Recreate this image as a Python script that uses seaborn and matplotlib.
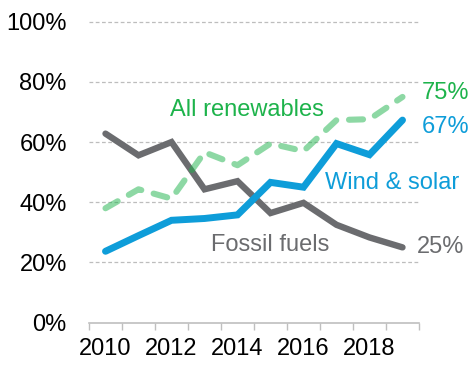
import matplotlib
matplotlib.use("Agg")
import matplotlib.pyplot as plt
import seaborn as sns
import pandas as pd
from matplotlib.ticker import FixedLocator, FuncFormatter

years = [2010, 2011, 2012, 2013, 2014, 2015, 2016, 2017, 2018, 2019]
fossil = [62.8, 55.6, 60.0, 44.3, 47.0, 36.4, 39.8, 32.5, 28.3, 25.0]
wind_solar = [23.7, 28.9, 34.0, 34.6, 35.8, 46.6, 45.0, 59.5, 55.8, 67.3]
renewables = [38.0, 44.3, 41.2, 56.6, 52.3, 59.5, 57.0, 67.3, 67.6, 75.0]
tick_years = [2010, 2012, 2014, 2016, 2018]
y_ticks = [0, 20, 40, 60, 80, 100]

GRAY = "#6B6C6F"
BLUE = "#0E9DD9"
GREEN = "#1DB34B"

sns.set_theme(style="white")
plt.rcParams["font.family"] = ["Liberation Sans", "DejaVu Sans"]

df = pd.DataFrame({"year": years, "fossil": fossil,
                   "wind": wind_solar, "ren": renewables})

fig = plt.figure(figsize=(4.69, 3.65), dpi=100)
ax = fig.add_axes([89 / 469, 1 - 322.6 / 365, (419 - 89) / 469, (322.6 - 21.7) / 365])

sns.lineplot(data=df, x="year", y="fossil", ax=ax, color=GRAY, linewidth=4.6,
             solid_capstyle="round", solid_joinstyle="miter", zorder=3)
sns.lineplot(data=df, x="year", y="wind", ax=ax, color=BLUE, linewidth=5.0,
             solid_capstyle="round", solid_joinstyle="miter", zorder=4)
sns.lineplot(data=df, x="year", y="ren", ax=ax, color=GREEN, alpha=0.5, linewidth=4.4,
             linestyle=(0, (2.3, 2.1)), dash_capstyle="round", zorder=5)

ax.set_xlim(2009.5, 2019.5)
ax.set_ylim(0, 100)
ax.set_xlabel("")
ax.set_ylabel("")

fs = 17

ax.yaxis.set_major_locator(FixedLocator(y_ticks))
ax.yaxis.set_major_formatter(FuncFormatter(lambda v, p: f"{int(v)}%"))
ax.tick_params(axis="y", length=0, pad=16, labelsize=fs, labelcolor="black")
for lab in ax.get_yticklabels():
    lab.set_horizontalalignment("right")

ax.xaxis.set_major_locator(FixedLocator(tick_years))
ax.xaxis.set_minor_locator(FixedLocator([y - 0.5 for y in years] + [years[-1] + 0.5]))
ax.tick_params(axis="x", which="major", length=0, pad=11, labelsize=fs, labelcolor="black")
ax.tick_params(axis="x", which="minor", length=5, width=1, color="#BFBFBF", direction="out", bottom=True)

for v in y_ticks[1:]:
    ax.axhline(v, color="#BDBDBD", linewidth=0.9, linestyle=(0, (3, 2)), zorder=1, clip_on=False)

for s in ["left", "right", "top"]:
    ax.spines[s].set_visible(False)
ax.spines["bottom"].set_color("#BFBFBF")
ax.spines["bottom"].set_linewidth(1.2)

ax.text(2011.95, 70.6, "All renewables", color=GREEN, fontsize=fs, ha="left", va="center")
ax.text(2016.65, 46.3, "Wind & solar", color=BLUE, fontsize=fs, ha="left", va="center")
ax.text(2013.2, 25.8, "Fossil fuels", color=GRAY, fontsize=fs, ha="left", va="center")
ax.text(2019.57, 76.3, "75%", color=GREEN, fontsize=fs, ha="left", va="center", clip_on=False)
ax.text(2019.57, 65.1, "67%", color=BLUE, fontsize=fs, ha="left", va="center", clip_on=False)
ax.text(2019.45, 25.2, "25%", color=GRAY, fontsize=fs, ha="left", va="center", clip_on=False)

fig.savefig("out.png", dpi=100)
